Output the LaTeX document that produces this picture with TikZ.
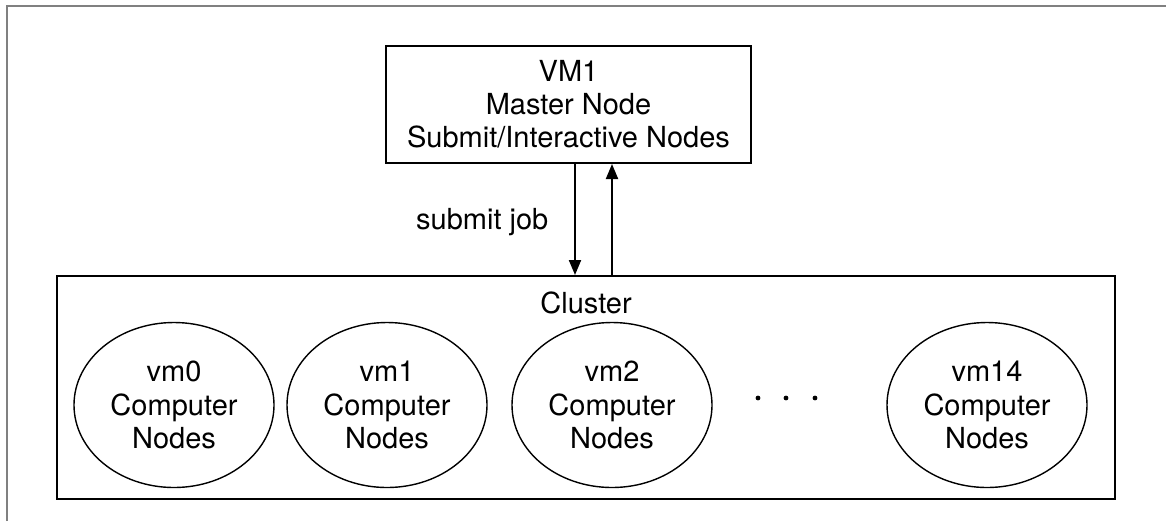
\documentclass[tikz,border=0pt]{standalone}
\usepackage{fontspec}
\setmainfont{TeX Gyre Heros}
\usetikzlibrary{shapes.geometric,arrows.meta,positioning}

\begin{document}
\begin{tikzpicture}[x=0.5pt,y=-0.5pt,
        font=\fontsize{14.5}{16.4}\selectfont,
        box/.style={draw,line width=1pt,align=center,inner sep=0pt},
        vmnode/.style={draw,ellipse,line width=0.7pt,minimum width=100pt,minimum height=82.5pt,align=center,inner sep=0pt,font=\fontsize{14.5}{16.8}\selectfont},
        arr/.style={line width=1pt,-{Triangle[length=7.5pt,width=6pt]}}]
        % 画布与外框
        \useasboundingbox (0,0) rectangle (1166,521);
        \draw[gray,line width=1pt] (7,521) -- (7,6) -- (1166,6);

        % 主节点
        \node[box,minimum width=182.5pt,minimum height=58.5pt] (master) at (568.5,104.5) {VM1\\Master Node\\Submit/Interactive Nodes};

        % 集群
        \node[box,minimum width=529pt,minimum height=111.5pt] (cluster) at (586,387.5) {};
        \node[below=8pt of cluster.north,inner sep=0pt] (clabel) {Cluster};

        % 计算节点
        \foreach \i/\x in {0/174,1/387,2/612}
            \node[vmnode] (vm\i) at (\x,405) {vm\i\\Computer\\Nodes};
        \node[vmnode] (vm14) at (987,405) {vm14\\Computer\\Nodes};
        \foreach \x in {758,786,815}
            \fill (\x,398) circle (1.2pt);

        % 箭头
        \draw[arr] ([xshift=3.25pt]master.south) -- ([xshift=3.25pt]master.south |- cluster.north)
            node[midway,left=9.5pt,yshift=-1.5pt] (sjob) {submit job};
        \draw[arr] (vm2 |- cluster.north) -- (vm2 |- master.south);
    \end{tikzpicture}
\end{document}
